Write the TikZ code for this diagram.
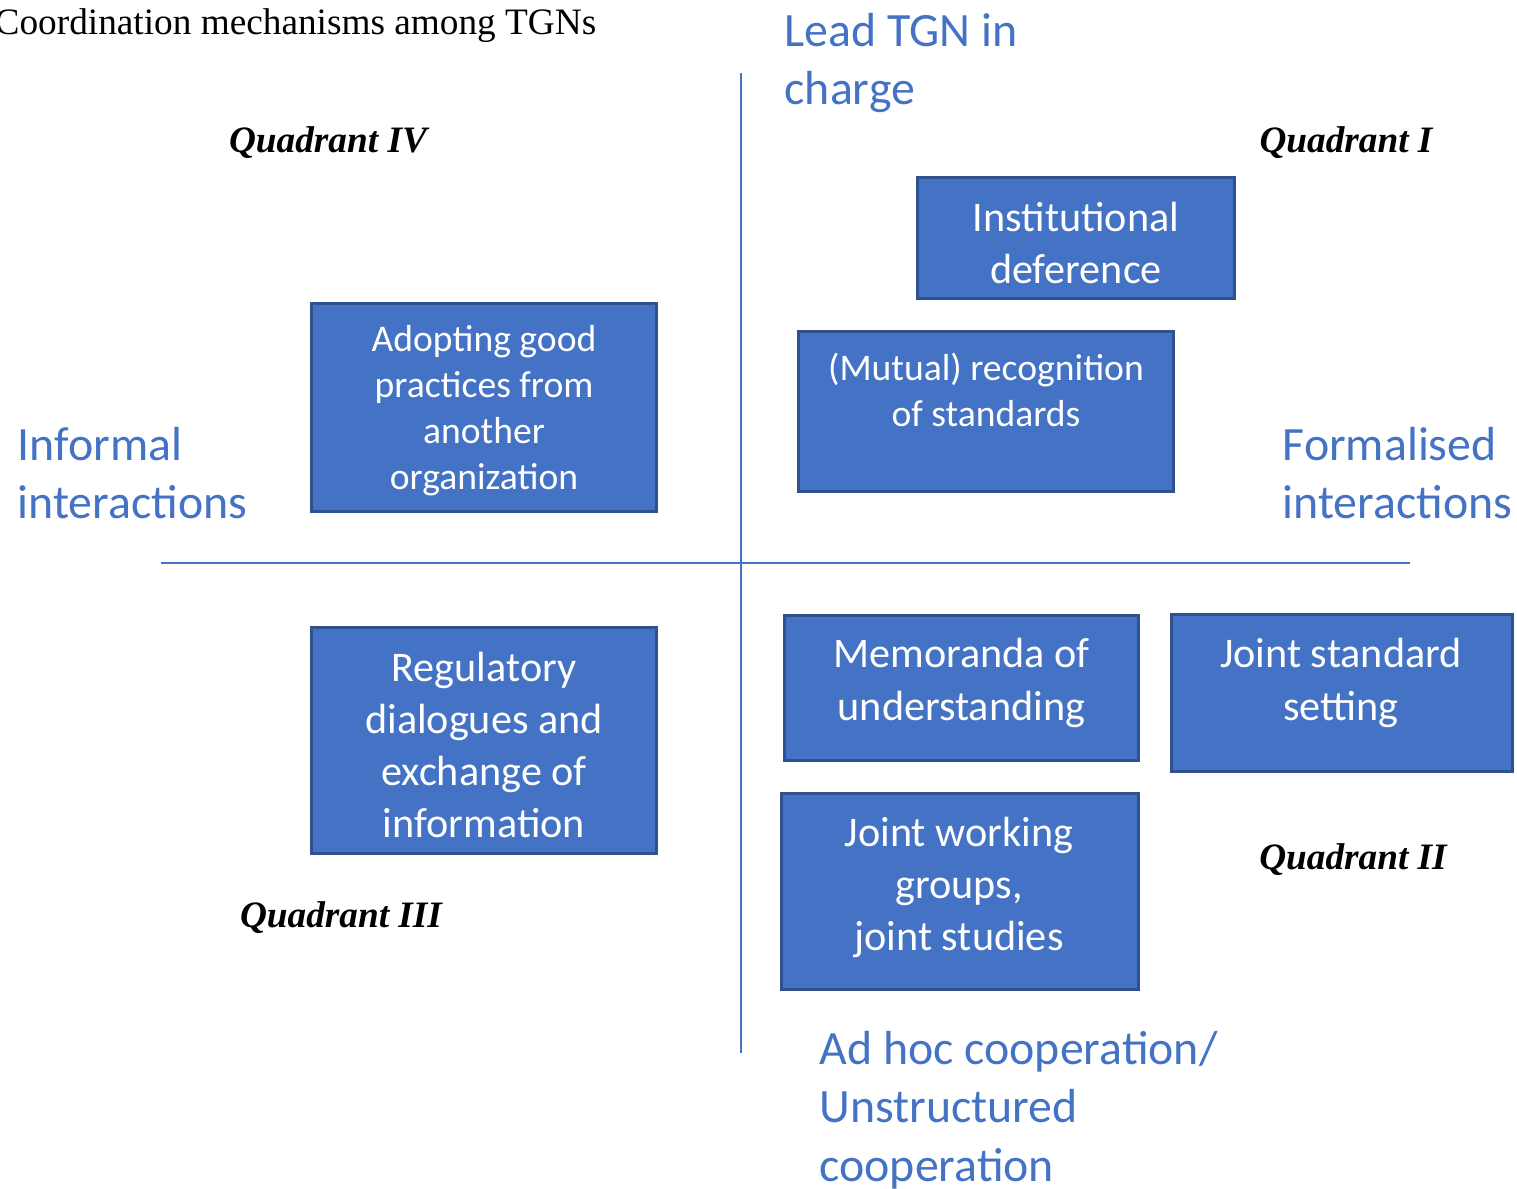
\documentclass[tikz,border=0pt]{standalone}
\usepackage{fontspec}
\setmainfont{Carlito}
\newfontfamily\timesfont{Liberation Serif}
\usetikzlibrary{positioning}
\definecolor{officeblue}{HTML}{4472C4}
\definecolor{officeedge}{HTML}{2F528F}
\tikzset{%
   box/.style={rectangle, inner sep=0mm, outer sep=0mm, draw=officeedge, line width=0.85pt, fill=officeblue},
   boxtxt/.style={inner sep=0mm, text=white, align=center},
   axis/.style={draw=officeblue, line width=0.6pt},
   dimlabel/.style={inner sep=0mm, anchor=west, align=left, text=officeblue, font=\fontsize{13.6}{16.6}\selectfont},
   quadrant/.style={inner sep=0mm, font=\timesfont\bfseries\itshape\fontsize{10.6}{12}\selectfont},
}
\newcommand\boxbig{\fontsize{12}{14.8}\selectfont}
\newcommand\boxsmall{\fontsize{10.7}{13.1}\selectfont}

\begin{document}
\begin{tikzpicture}[x=0.01cm, y=-0.01cm]
   \useasboundingbox (0,0) rectangle (1517,1189);
   \node[inner sep=0mm, anchor=west, font=\timesfont\fontsize{10.6}{12}\selectfont] (title) at (-6,26) {Coordination mechanisms among TGNs};

   % the two axes
   \coordinate (top) at (741,73);
   \coordinate (bottom) at (741,1053);
   \coordinate (left) at (161,563);
   \coordinate (right) at (1410,563);
   \path[axis] (top) -- (bottom);
   \path[axis] (left) -- (right);

   % what the axes stand for
   \node[dimlabel] (lead) at (784,63) {Lead TGN in\\charge};
   \node[dimlabel] (informal) at (17,473) {Informal\\interactions};
   \node[dimlabel] (formal) at (1282,473) {Formalised\\interactions};
   \node[dimlabel] (adhoc) at (819,1110) {Ad hoc cooperation/\\Unstructured\\cooperation};

   \node[quadrant] (q4) at (328,143) {Quadrant IV};
   \node[quadrant] (q1) at (1346,143) {Quadrant I};
   \node[quadrant] (q3) at (341,918) {Quadrant III};
   \node[quadrant] (q2) at (1353,860) {Quadrant II};

   % mechanisms
   \node[box, minimum width=3.16cm, minimum height=1.20cm] (inst) at (1076,238) {};
   \node[boxtxt, font=\boxbig] (inst-t) at (1076,243) {Institutional\\deference};

   \node[box, minimum width=3.44cm, minimum height=2.07cm] (adopt) at (484,407.5) {};
   \node[boxtxt, font=\boxsmall] (adopt-t) at (484,410.5) {Adopting good\\practices from\\another\\organization};

   \node[box, minimum width=3.74cm, minimum height=1.59cm] (mutual) at (986,411.5) {};
   \node[boxtxt, font=\boxsmall] (mutual-t) at (986,390) {(Mutual) recognition\\of standards};

   \node[box, minimum width=3.44cm, minimum height=2.25cm] (regul) at (484,740.5) {};
   \node[boxtxt, font=\boxbig] (regul-t) at (484,745) {Regulatory\\dialogues and\\exchange of\\information};

   \node[box, minimum width=3.53cm, minimum height=1.44cm] (memo) at (961.5,688) {};
   \node[boxtxt, font=\boxbig] (memo-t) at (961.5,683) {Memoranda of\\understanding};

   \node[box, minimum width=3.40cm, minimum height=1.56cm] (jstd) at (1342,693) {};
   \node[boxtxt, font=\boxbig] (jstd-t) at (1341,683) {Joint standard\\setting};

   \node[box, minimum width=3.56cm, minimum height=1.95cm] (jwg) at (960,891.5) {};
   \node[boxtxt, font=\boxbig] (jwg-t) at (959,887.5) {Joint working\\groups,\\joint studies};
\end{tikzpicture}
\end{document}
